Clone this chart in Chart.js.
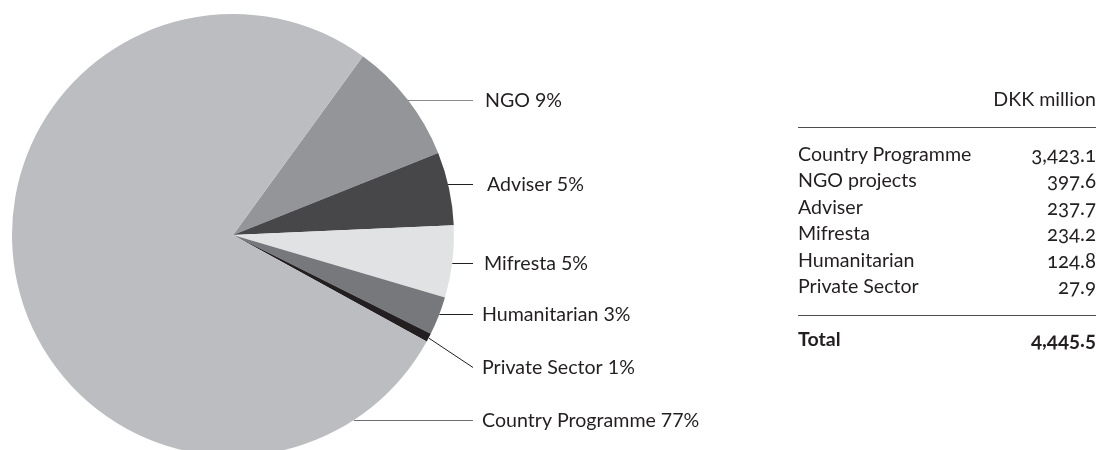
<!DOCTYPE html>
<html>
<head>
<meta charset="utf-8">
<script src="https://cdn.jsdelivr.net/npm/chart.js@4/dist/chart.umd.min.js"></script>
<style>
  html, body { margin: 0; padding: 0; background: #fff; overflow: hidden; }
  #wrap { position: relative; width: 1099px; height: 450px; overflow: hidden; }
  #pie { position: absolute; left: 0; top: 0; }
  #tbl { position: absolute; left: 798px; top: 0; width: 298px; font-family: Lato, "Open Sans", sans-serif;
         font-size: 19.6px; color: #231f20; font-variant-numeric: oldstyle-nums; }
  #tbl .unit { position: absolute; right: 0; top: 86px; line-height: 26.4px; white-space: nowrap; }
  #tbl .rule { position: absolute; left: 0; width: 298px; height: 0; border-top: 1.5px solid #4d4d4f; }
  #tbl .rows { position: absolute; left: 0; top: 141px; width: 298px; }
  #tbl .row { height: 26.4px; line-height: 26.4px; display: flex; justify-content: space-between; white-space: nowrap; }
  #tbl .num { font-size: 20.5px; }
  #tbl .total { position: absolute; left: 0; top: 326px; width: 298px; font-weight: bold; }
</style>
</head>
<body>
<div id="wrap">
  <canvas id="pie" width="1099" height="470"></canvas>
  <div id="tbl"></div>
</div>
<script>
// datos del gráfico (en el orden del reloj, empezando por NGO)
const pieLabels = ['NGO', 'Adviser', 'Mifresta', 'Humanitarian', 'Private Sector', 'Country Programme'];
const pieValues = [397.6, 237.7, 234.2, 124.8, 27.9, 3423.1];
const pieColors = ['#939598', '#47474a', '#e1e2e3', '#77787b', '#231f20', '#bcbdc0'];

// tabla de la derecha
const tableLabels = ['Country Programme', 'NGO projects', 'Adviser', 'Mifresta', 'Humanitarian', 'Private Sector'];
const tableValues = [3423.1, 397.6, 237.7, 234.2, 124.8, 27.9];
const unitLabel = 'DKK million';
const totalLabel = 'Total';
const totalValue = 4445.5; // tal como aparece en la fuente (redondeo del original)

const total = pieValues.reduce((a, b) => a + b, 0);

function fmt(v) {
	return v.toLocaleString('en-US', { minimumFractionDigits: 1, maximumFractionDigits: 1 });
}

// etiquetas con líneas guía
const leaderPlugin = {
	id: 'leaders',
	afterDraw(chart, args, opts) {
		const ctx = chart.ctx;
		const arcs = chart.getDatasetMeta(0).data;
		ctx.save();
		ctx.font = '19.6px Lato, "Open Sans", sans-serif';
		ctx.fillStyle = '#231f20';
		ctx.textBaseline = 'alphabetic';
		arcs.forEach((arc, i) => {
			const p = arc.getProps(['x', 'y', 'startAngle', 'endAngle', 'outerRadius'], true);
			const ly = opts.labelY[i];
			let sx, sy;
			if (opts.diagonal[i]) {
				const mid = (p.startAngle + p.endAngle) / 2;
				sx = p.x + Math.cos(mid) * p.outerRadius;
				sy = p.y + Math.sin(mid) * p.outerRadius;
			} else {
				const dy = ly - p.y;
				sx = p.x + Math.sqrt(Math.max(p.outerRadius * p.outerRadius - dy * dy, 0));
				sy = ly;
			}
			ctx.strokeStyle = opts.lineColors[i];
			ctx.lineWidth = 1;
			ctx.beginPath();
			ctx.moveTo(sx, sy + 0.5);
			ctx.lineTo(opts.lineEnd, ly + 0.5);
			ctx.stroke();
			const pct = Math.round(pieValues[i] / total * 100);
			ctx.fillText(pieLabels[i] + ' ' + pct + '%', opts.textX[i], ly + 7);
		});
		ctx.restore();
	}
};

function initChart() {
	const ctx = document.getElementById('pie').getContext('2d');
	new Chart(ctx, {
		type: 'pie',
		data: {
			labels: pieLabels,
			datasets: [{
				data: pieValues,
				backgroundColor: pieColors,
				borderWidth: 0
			}]
		},
		options: {
			responsive: false,
			animation: false,
			devicePixelRatio: 1,
			rotation: 36,
			layout: { padding: { left: 12, top: 14, right: 645, bottom: 14 } },
			plugins: {
				legend: { display: false },
				tooltip: { enabled: false },
				leaders: {
					labelY: [100, 184, 263, 314, 367, 420],
					diagonal: [false, false, false, false, true, false],
					lineColors: ['#8a8b8e', '#231f20', '#231f20', '#231f20', '#231f20', '#6d6e71'],
					lineEnd: 473,
					textX: [485, 487, 484, 482, 482, 482]
				}
			}
		},
		plugins: [leaderPlugin]
	});
}

function buildTable() {
	const tbl = document.getElementById('tbl');
	let html = '<div class="unit">' + unitLabel + '</div>';
	html += '<div class="rule" style="top:127px"></div>';
	html += '<div class="rows">';
	tableLabels.forEach((l, i) => {
		html += '<div class="row"><span>' + l + '</span><span class="num">' + fmt(tableValues[i]) + '</span></div>';
	});
	html += '</div>';
	html += '<div class="rule" style="top:315px"></div>';
	html += '<div class="total row"><span>' + totalLabel + '</span><span class="num">' + fmt(totalValue) + '</span></div>';
	tbl.innerHTML = html;
}

buildTable();
initChart();
</script>
</body>
</html>
